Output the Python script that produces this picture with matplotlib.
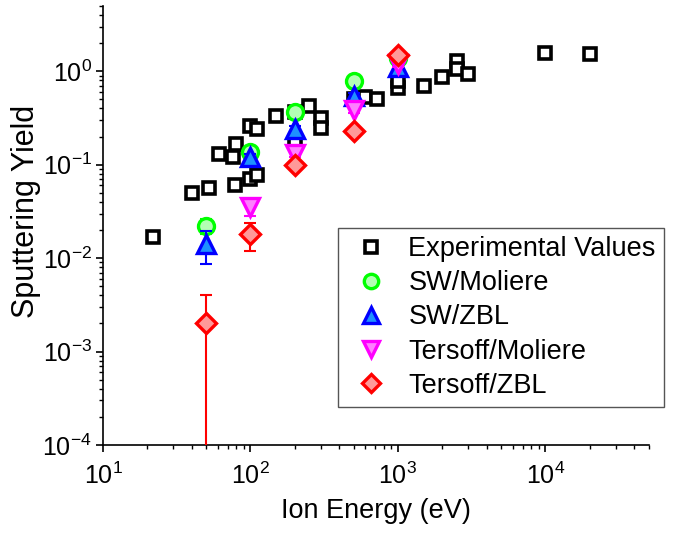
import numpy as np
import matplotlib
matplotlib.use("Agg")
import matplotlib.pyplot as plt

plt.rcParams['font.family'] = ['Liberation Sans', 'DejaVu Sans']
plt.rcParams['mathtext.default'] = 'regular'

# experimental data
exp_energy = [22, 40, 52, 61, 76, 78, 80, 99, 100, 110, 110, 150, 200, 200,
              250, 300, 300, 500, 600, 720, 1000, 1000, 1500, 2000, 2500,
              2500, 3000, 10000, 20000]
exp_yield = [0.017, 0.05, 0.056, 0.13, 0.12, 0.06, 0.165, 0.26, 0.07, 0.24,
             0.078, 0.33, 0.175, 0.37, 0.43, 0.32, 0.25, 0.5, 0.53, 0.5,
             0.67, 0.78, 0.7, 0.87, 1.28, 1.05, 0.93, 1.56, 1.55]

# simulations
sw_mol_e = [50, 100, 200, 500, 1000]
sw_mol_y = [0.022, 0.136, 0.364, 0.78, 1.4]
sw_mol_err = [0.004, 0.01, 0.02, 0.04, 0.1]

sw_zbl_e = [50, 100, 200, 500, 1000]
sw_zbl_y = [0.0141, 0.12, 0.24, 0.54, 1.1]
sw_zbl_err = [0.0055, 0.01, 0.02, 0.04, 0.1]

ter_mol_e = [100, 200, 500, 1000]
ter_mol_y = [0.035, 0.13, 0.39, 1.2]
ter_mol_err = [0.007, 0.01, 0.03, 0.1]

ter_zbl_e = [50, 100, 200, 500, 1000]
ter_zbl_y = [0.002, 0.018, 0.1, 0.23, 1.5]
ter_zbl_err = [0.002, 0.006, 0.01, 0.02, 0.1]

fig = plt.figure(figsize=(6.74, 5.33), dpi=100)
ax = fig.add_axes([0.1528, 0.1651, 0.8094, 0.8236])

ax.plot(exp_energy, exp_yield, 's', ms=9, mew=2.6, mec='black', mfc='white',
        label='Experimental Values', zorder=3)

series = [
    (sw_mol_e, sw_mol_y, sw_mol_err, 'o', 11.5, '#00ff00', '#b3ffb3', 'SW/Moliere'),
    (sw_zbl_e, sw_zbl_y, sw_zbl_err, '^', 12.5, '#0000ff', '#1e90ff', 'SW/ZBL'),
    (ter_mol_e, ter_mol_y, ter_mol_err, 'v', 12.5, '#ff00ff', '#ff80ff', 'Tersoff/Moliere'),
    (ter_zbl_e, ter_zbl_y, ter_zbl_err, 'D', 10, '#ff0000', '#ff9999', 'Tersoff/ZBL'),
]
z = 4
for e, y, err, m, ms, ec, fc, lab in series:
    ax.errorbar(e, y, yerr=err, fmt='none', ecolor=ec, elinewidth=1.5,
                capsize=4.5, capthick=1.5, zorder=z)
    ax.plot(e, y, m, ms=ms, mew=2.4, mec=ec, mfc=fc, label=lab, zorder=z + 0.5)
    z += 1

ax.set_xscale('log')
ax.set_yscale('log')
ax.set_xlim(10, 5e4)
ax.set_ylim(1e-4, 5)

for s in ['top', 'right']:
    ax.spines[s].set_visible(False)
for s in ['left', 'bottom']:
    ax.spines[s].set_linewidth(1.2)

ax.tick_params(which='major', direction='out', length=5, width=1.2,
               labelsize=18)
ax.tick_params(axis='x', which='major', pad=8)
ax.tick_params(axis='y', which='major', pad=3)
ax.tick_params(which='minor', direction='out', length=3, width=1.0)
ax.yaxis.set_minor_locator(matplotlib.ticker.LogLocator(base=10, subs=np.arange(2, 10), numticks=20))
ax.xaxis.set_minor_locator(matplotlib.ticker.LogLocator(base=10, subs=np.arange(2, 10), numticks=20))
ax.yaxis.set_minor_formatter(matplotlib.ticker.NullFormatter())
ax.xaxis.set_minor_formatter(matplotlib.ticker.NullFormatter())

ax.set_xlabel('Ion Energy (eV)', fontsize=19.5, labelpad=6)
ax.set_ylabel('Sputtering Yield', fontsize=22)
ax.yaxis.set_label_coords(-0.113, 0.533)

leg = ax.legend(loc='upper left', bbox_to_anchor=(0.5015, 0.572),
                bbox_transform=fig.transFigure, borderaxespad=0,
                fontsize=19.5, numpoints=1, handlelength=1.8,
                handletextpad=0.5, labelspacing=0.3, markerscale=0.9,
                fancybox=False, framealpha=1, borderpad=0.3)
leg.get_frame().set_edgecolor('#555555')
leg.get_frame().set_linewidth(1.0)

fig.savefig('out.png', dpi=100)
